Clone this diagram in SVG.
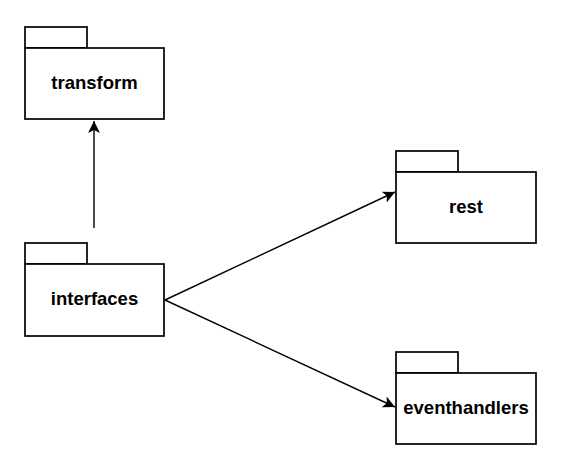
<svg xmlns="http://www.w3.org/2000/svg" width="581" height="454" viewBox="0 0 581 454">
<defs>
<style>
.pkg{fill:#fff;stroke:#000;stroke-width:1.7}
.lbl{font-family:"Liberation Sans",Arial,sans-serif;font-weight:bold;font-size:18.5px;text-anchor:middle;fill:#000}
.edge{stroke:#000;stroke-width:1.4;fill:none}
</style>
<marker id="arr" viewBox="0 0 10 10" refX="10" refY="5" markerWidth="12" markerHeight="12" markerUnits="userSpaceOnUse" orient="auto">
<path d="M0,0 L10,5 L0,10 L2.5,5 Z" fill="#000"/>
</marker>
</defs>
<rect width="581" height="454" fill="#fff"/>
<g id="connectors">
<line class="edge" x1="94" y1="228" x2="94" y2="121" marker-end="url(#arr)"/>
<line class="edge" x1="165" y1="300" x2="395" y2="192" marker-end="url(#arr)"/>
<line class="edge" x1="165" y1="300" x2="395" y2="407" marker-end="url(#arr)"/>
</g>
<g id="transform">
<rect class="pkg" x="25" y="27" width="62" height="21"/>
<rect class="pkg" x="25" y="48" width="139" height="71"/>
<text class="lbl" x="94.5" y="89">transform</text>
</g>
<g id="interfaces">
<rect class="pkg" x="25" y="243" width="62" height="21"/>
<rect class="pkg" x="25" y="264" width="139" height="72"/>
<text class="lbl" x="94.5" y="305">interfaces</text>
</g>
<g id="rest">
<rect class="pkg" x="396" y="151" width="62" height="21"/>
<rect class="pkg" x="396" y="172" width="140" height="71"/>
<text class="lbl" x="466" y="213">rest</text>
</g>
<g id="eventhandlers">
<rect class="pkg" x="396" y="352" width="62" height="21"/>
<rect class="pkg" x="396" y="373" width="140" height="71"/>
<text class="lbl" x="466" y="414">eventhandlers</text>
</g>
</svg>
